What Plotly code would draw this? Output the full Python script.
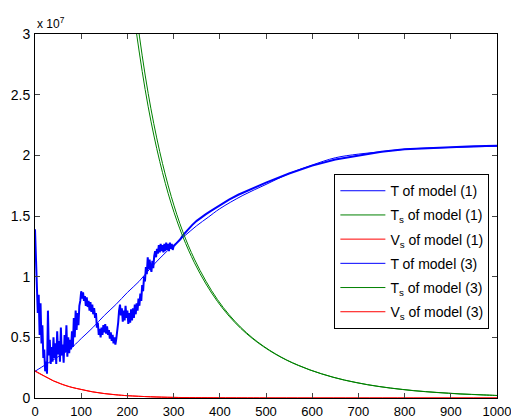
import plotly.graph_objects as go

# ---- data (values in units of 1e7) ----
t_noisy = list(range(0, 302, 2)) + [305, 310, 315, 320, 330, 340, 350, 360, 370, 380, 390, 400,
                                    420, 440, 460, 480, 500, 550, 600, 650, 700, 750, 800, 850,
                                    900, 950, 1000]
T_model1 = [
    1.39, 1.20, 0.95, 0.70, 0.85, 0.52, 0.78, 0.45, 0.60, 0.33,
    0.40, 0.22, 0.30, 0.20, 0.72, 0.35, 0.48, 0.28, 0.42, 0.30,
    0.50, 0.33, 0.45, 0.28, 0.55, 0.36, 0.47, 0.30, 0.58, 0.35,
    0.44, 0.29, 0.52, 0.38, 0.60, 0.34, 0.50, 0.37, 0.48, 0.40,
    0.55, 0.42, 0.66, 0.50, 0.72, 0.56, 0.70, 0.60, 0.76, 0.80,
    0.88, 0.82, 0.87, 0.80, 0.84, 0.76, 0.83, 0.75, 0.80, 0.72,
    0.79, 0.71, 0.77, 0.69, 0.74, 0.66, 0.70, 0.58, 0.62, 0.52,
    0.57, 0.50, 0.58, 0.52, 0.60, 0.54, 0.61, 0.53, 0.59, 0.52,
    0.56, 0.49, 0.54, 0.47, 0.52, 0.45, 0.50, 0.44, 0.49, 0.55,
    0.62, 0.72, 0.77, 0.68, 0.74, 0.63, 0.72, 0.64, 0.76, 0.66,
    0.72, 0.61, 0.70, 0.62, 0.73, 0.64, 0.74, 0.66, 0.77, 0.69,
    0.78, 0.72, 0.82, 0.76, 0.86, 0.80, 0.93, 0.88, 1.00, 0.96,
    1.08, 1.02, 1.16, 1.06, 1.14, 1.08, 1.04, 1.13, 1.07, 1.17,
    1.21, 1.16, 1.23, 1.19, 1.26, 1.20, 1.27, 1.21, 1.26, 1.20,
    1.27, 1.21, 1.28, 1.22, 1.27, 1.21, 1.28, 1.23, 1.27, 1.22,
    1.25,
    1.27, 1.29, 1.31, 1.34, 1.385, 1.425, 1.46, 1.49, 1.515, 1.54, 1.565, 1.59,
    1.635, 1.675, 1.71, 1.745, 1.775, 1.85, 1.915, 1.965, 2.00, 2.03, 2.05, 2.06,
    2.07, 2.075, 2.08,
]

t_smooth = [0, 25, 50, 75, 100, 125, 150, 175, 200, 225, 250, 275, 300, 325, 350, 375, 400,
            450, 500, 550, 600, 650, 700, 750, 800, 850, 900, 950, 1000]
T_model3 = [0.22, 0.28, 0.34, 0.40, 0.49, 0.58, 0.68, 0.77, 0.87, 0.96, 1.07, 1.17, 1.26,
            1.34, 1.42, 1.49, 1.56, 1.67, 1.76, 1.85, 1.92, 1.98, 2.01, 2.03, 2.05, 2.06,
            2.065, 2.07, 2.075]

t_green = [170, 195, 220, 245, 270, 295, 320, 345, 370, 395, 420, 445, 470, 495, 520, 545,
           570, 595, 620, 645, 670, 695, 720, 745, 770, 795, 820, 845, 870, 895, 920, 945,
           970, 995, 1000]
Ts_model1 = [4.70, 3.75, 3.00, 2.40, 1.95, 1.60, 1.33, 1.115, 0.94, 0.795, 0.675, 0.575,
             0.492, 0.422, 0.362, 0.311, 0.268, 0.231, 0.199, 0.171, 0.147, 0.127, 0.109,
             0.094, 0.081, 0.070, 0.060, 0.052, 0.045, 0.039, 0.033, 0.029, 0.025, 0.021,
             0.020]
Ts_model3 = [4.94, 3.94, 3.15, 2.51, 2.03, 1.66, 1.37, 1.145, 0.963, 0.811, 0.687, 0.584,
             0.498, 0.426, 0.365, 0.313, 0.270, 0.232, 0.200, 0.172, 0.148, 0.128, 0.110,
             0.095, 0.082, 0.071, 0.061, 0.053, 0.046, 0.040, 0.034, 0.030, 0.026, 0.022,
             0.021]

t_red = [0, 10, 20, 30, 40, 50, 60, 80, 100, 125, 150, 175, 200, 250, 300, 400, 500, 700, 1000]
Vs_model1 = [0.22, 0.20, 0.18, 0.16, 0.14, 0.125, 0.11, 0.087, 0.07, 0.05, 0.036, 0.026,
             0.019, 0.010, 0.005, 0.0015, 0.0005, 0.0001, 0.0]
Vs_model3 = [0.225, 0.203, 0.182, 0.162, 0.142, 0.127, 0.112, 0.088, 0.071, 0.051, 0.037,
             0.027, 0.019, 0.010, 0.005, 0.0015, 0.0005, 0.0001, 0.0]

x_ticks = [0, 100, 200, 300, 400, 500, 600, 700, 800, 900, 1000]
y_ticks = [0, 0.5, 1, 1.5, 2, 2.5, 3]
y_tick_text = ["0", "0.5", "1", "1.5", "2", "2.5", "3"]

BLUE = "#0000ff"
GREEN = "#008000"
RED = "#ff0000"

fig = go.Figure()
# noisy model (1) curve drawn thick; its legend entry is a thin-line proxy
fig.add_trace(go.Scatter(x=t_noisy, y=T_model1, mode="lines", name="T of model (1)",
                         legendgroup="a", showlegend=False, line=dict(color=BLUE, width=2)))
fig.add_trace(go.Scatter(x=[None], y=[None], mode="lines", name="T of model (1)",
                         legendgroup="a", line=dict(color=BLUE, width=1)))
fig.add_trace(go.Scatter(x=t_green, y=Ts_model1, mode="lines", name="T<sub>s</sub> of model (1)",
                         legendgroup="b", line=dict(color=GREEN, width=1, shape="spline")))
fig.add_trace(go.Scatter(x=t_red, y=Vs_model1, mode="lines", name="V<sub>s</sub> of model (1)",
                         legendgroup="c", line=dict(color=RED, width=1, shape="spline")))
fig.add_trace(go.Scatter(x=t_smooth, y=T_model3, mode="lines", name="T of model (3)",
                         legendgroup="d", line=dict(color=BLUE, width=1, shape="spline")))
fig.add_trace(go.Scatter(x=t_green, y=Ts_model3, mode="lines", name="T<sub>s</sub> of model (3)",
                         legendgroup="e", line=dict(color=GREEN, width=1, shape="spline")))
fig.add_trace(go.Scatter(x=t_red, y=Vs_model3, mode="lines", name="V<sub>s</sub> of model (3)",
                         legendgroup="f", line=dict(color=RED, width=1, shape="spline")))

FONT = "Liberation Sans, Arial, sans-serif"
axis_font = dict(family=FONT, size=13, color="black")
fig.update_layout(
    width=511, height=419,
    margin=dict(l=35, r=14, t=34, b=21),
    paper_bgcolor="white", plot_bgcolor="white",
    font=axis_font,
    showlegend=True,
    legend=dict(x=0.648, y=0.615, xanchor="left", yanchor="top",
                bgcolor="white", bordercolor="black", borderwidth=1,
                font=dict(family=FONT, size=14, color="black"),
                tracegroupgap=3, itemwidth=45),
    xaxis=dict(range=[0, 1000], tickvals=x_ticks, ticks="inside", ticklen=5,
               showline=True, linecolor="black", linewidth=1, mirror="ticks",
               showgrid=False, zeroline=False, tickfont=axis_font, automargin=False,
               ticklabeloverflow="allow", ticklabelstandoff=1),
    yaxis=dict(range=[0, 3], tickvals=y_ticks, ticktext=y_tick_text, ticks="inside",
               ticklen=5, showline=True, linecolor="black", linewidth=1, mirror="ticks",
               showgrid=False, zeroline=False, automargin=False,
               tickfont=dict(family=FONT, size=14, color="black"),
               ticklabelstandoff=1),
    annotations=[dict(text="x 10<sup>7</sup>", xref="paper", yref="paper", x=0, y=1,
                      xanchor="left", yanchor="bottom", showarrow=False, yshift=1,
                      font=dict(family=FONT, size=12, color="black"))],
)

fig.write_html("out.html")
